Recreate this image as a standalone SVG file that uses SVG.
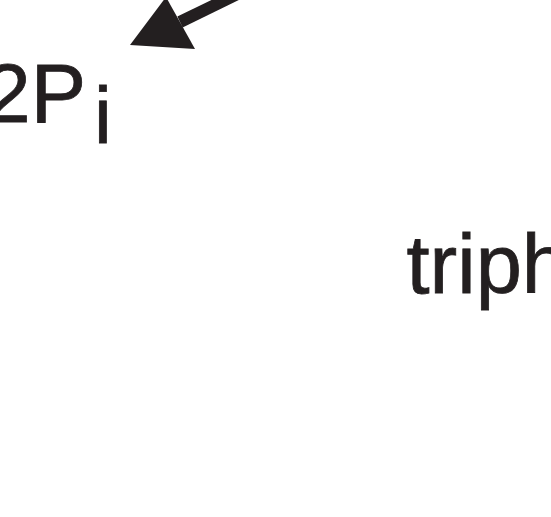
<svg xmlns="http://www.w3.org/2000/svg" width="551" height="517" viewBox="0 0 551 517">
<style>
.lbl{font-family:"Liberation Sans",Arial,Helvetica,sans-serif;fill:#231f20;stroke:#231f20;stroke-width:0.8;}
.conn{stroke:#231f20;stroke-width:12;fill:none;}
.head{fill:#231f20;}
</style>
<rect width="551" height="517" fill="#ffffff"/>
<g id="connectors">
<path class="conn" d="M262,-18 L180,22"/>
<polygon class="head" points="130,45 166,-3 195,49"/>
</g>
<g id="node-2Pi">
<text class="lbl" x="-15.5" y="122" font-size="83">2P</text>
<text class="lbl" x="94" y="143" font-size="80">i</text>
</g>
<g id="node-triph">
<text class="lbl" x="406.5" y="293" font-size="83">triph</text>
</g>
</svg>
